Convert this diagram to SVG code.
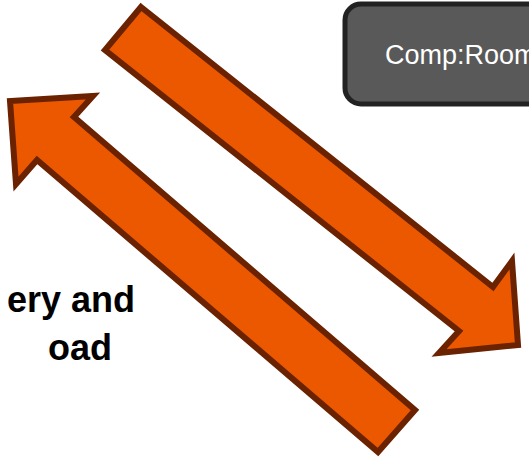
<svg xmlns="http://www.w3.org/2000/svg" width="529" height="461" viewBox="0 0 529 461">
<style>
.arrow{fill:#EB5800;stroke:#6A2200;stroke-width:6;stroke-linejoin:miter}
.lbl{font-family:"Liberation Sans",Arial,sans-serif;font-weight:bold;font-size:36px;fill:#000}
.node rect{fill:#595959;stroke:#222222;stroke-width:5}
.node text{font-family:"Liberation Sans",Arial,sans-serif;font-size:27px;fill:#ffffff}
</style>
<rect width="529" height="461" fill="#ffffff"/>
<g id="connectors">
<polygon id="arrow-down" class="arrow" points="141,7 493,287 512,261 518,345 439,353 459,331 105,50"/>
<polygon id="arrow-up" class="arrow" points="415,410 74,117 93,96 10,101 16,184 37,160 378,452"/>
</g>
<g id="label">
<text class="lbl" x="135" y="312" text-anchor="end">ery and</text>
<text class="lbl" x="112" y="360" text-anchor="end">oad</text>
</g>
<g id="node-comp-room" class="node">
<rect x="345" y="4" width="220" height="100" rx="16" ry="16"/>
<text x="385" y="64">Comp:Room</text>
</g>
</svg>
